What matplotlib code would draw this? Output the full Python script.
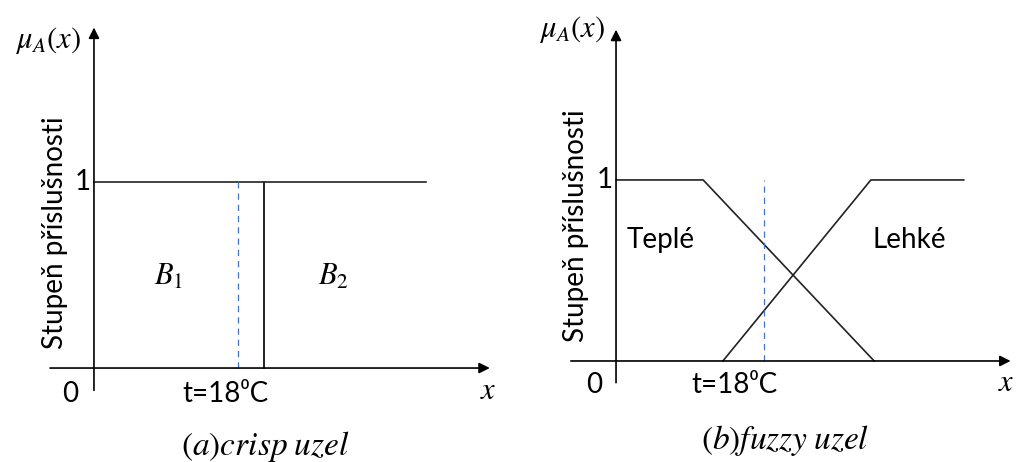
import matplotlib.pyplot as plt

plt.rcParams['mathtext.fontset'] = 'stix'

# crisp node: two sets split by a sharp step
step_x = 21.3
crisp_b1_x = [0, step_x, step_x]
crisp_b1_y = [1, 1, 0]
crisp_b2_x = [step_x, step_x, 41.5]
crisp_b2_y = [0, 1, 1]

# fuzzy node: two overlapping trapezoids
teple_x = [0, 10.6, 31.4]
teple_y = [1, 1, 0]
lehke_x = [13.0, 31.0, 42.3]
lehke_y = [0, 1, 1]

t_mark = 18
font_txt = ['Lato', 'DejaVu Sans']
line_kw = dict(color='#222222', lw=1.2)
fs_txt = 20
fs_math = 22


def draw_axes(ax, x_end, y_top):
    ax.axis('off')
    arrow = dict(arrowstyle='-|>', color='black', lw=1.2, mutation_scale=16,
                 shrinkA=0, shrinkB=0)
    ax.annotate('', xy=(x_end, 0), xytext=(-5.5, 0), arrowprops=arrow)
    ax.annotate('', xy=(0, y_top), xytext=(0, -0.12), arrowprops=arrow)


fig = plt.figure(figsize=(10.18, 4.62), dpi=100)

# (a) crisp
ax1 = fig.add_axes([0, 0, 0.5, 1])
ax1.set_xlim(-11.75, 51.9)
ax1.set_ylim(-0.505, 1.978)
draw_axes(ax1, 49.5, 1.83)
ax1.plot(crisp_b1_x, crisp_b1_y, **line_kw)
ax1.plot(crisp_b2_x, crisp_b2_y, **line_kw)
ax1.plot([t_mark, t_mark], [0, 1], color='#4472C4', lw=0.9, ls=(0, (5, 4)))
ax1.text(9.3, 0.49, r'$B_1$', fontsize=fs_math, ha='center', va='center')
ax1.text(29.9, 0.49, r'$B_2$', fontsize=fs_math, ha='center', va='center')
ax1.text(-0.4, 1.0, '1', fontsize=fs_txt, ha='right', va='center', family=font_txt)
ax1.text(-3.0, -0.14, '0', fontsize=fs_txt, ha='center', va='center', family=font_txt)
ax1.text(16.4, -0.14, 't=18⁰C', fontsize=fs_txt, ha='center', va='center', family=font_txt)
ax1.text(49.3, -0.12, r'$x$', fontsize=fs_math, ha='center', va='center')
ax1.text(-5.8, 1.76, r'$\mu_A(x)$', fontsize=fs_math, ha='center', va='center')
ax1.text(-4.9, 0.73, 'Stupeň příslušnosti', fontsize=fs_txt, rotation=90,
         ha='center', va='center', family=font_txt)
ax1.text(21.4, -0.42, r'$(a)crisp\;uzel$', fontsize=24, ha='center', va='center')

# (b) fuzzy
ax2 = fig.add_axes([0.5, 0, 0.5, 1])
ax2.set_xlim(-13.02, 48.9)
ax2.set_ylim(-0.558, 1.994)
draw_axes(ax2, 48.0, 1.83)
ax2.plot(teple_x, teple_y, **line_kw)
ax2.plot(lehke_x, lehke_y, **line_kw)
ax2.plot([t_mark, t_mark], [0, 1], color='#4472C4', lw=0.9, ls=(0, (5, 4)))
ax2.text(5.4, 0.67, 'Teplé', fontsize=fs_txt, ha='center', va='center', family=font_txt)
ax2.text(35.7, 0.67, 'Lehké', fontsize=fs_txt, ha='center', va='center', family=font_txt)
ax2.text(-0.4, 1.0, '1', fontsize=fs_txt, ha='right', va='center', family=font_txt)
ax2.text(-2.7, -0.13, '0', fontsize=fs_txt, ha='center', va='center', family=font_txt)
ax2.text(14.4, -0.13, 't=18⁰C', fontsize=fs_txt, ha='center', va='center', family=font_txt)
ax2.text(47.5, -0.12, r'$x$', fontsize=fs_math, ha='center', va='center')
ax2.text(-5.3, 1.83, r'$\mu_A(x)$', fontsize=fs_math, ha='center', va='center')
ax2.text(-4.9, 0.75, 'Stupeň příslušnosti', fontsize=fs_txt, rotation=90,
         ha='center', va='center', family=font_txt)
ax2.text(20.6, -0.44, r'$(b)fuzzy\;uzel$', fontsize=24, ha='center', va='center')

fig.savefig('out.png', dpi=100)
